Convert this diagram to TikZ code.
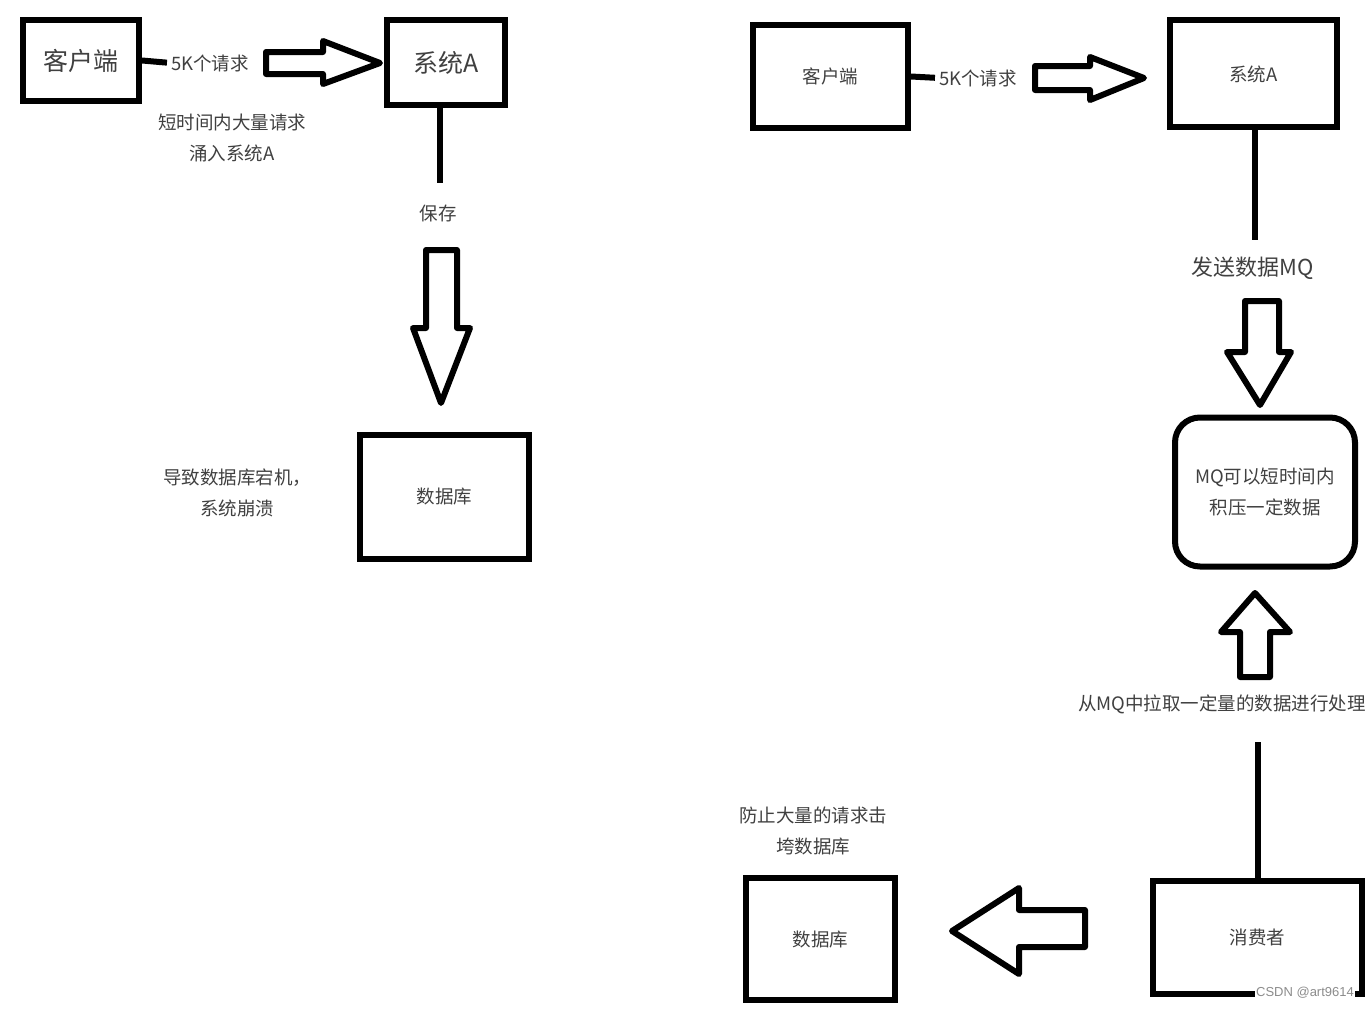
\documentclass[tikz,border=0pt]{standalone}
\usepackage{fontspec}
\setmainfont{Noto Sans CJK SC}
\newfontfamily\wmfont{Liberation Sans}
\definecolor{txt}{gray}{0.25}
\tikzset{
  box/.style={draw,line width=6pt,inner sep=0pt,text=txt,font=\fontsize{18.5}{22}\selectfont},
  lbl/.style={inner sep=0pt,align=center,text=txt,font=\fontsize{18.5}{31}\selectfont},
  wire/.style={line width=6pt},
  fat/.style={draw,line width=6pt,line join=round}
}
\begin{document}
\begin{tikzpicture}[x=1pt,y=-1pt]
	\useasboundingbox (0,0) rectangle (1369,1009);
	\clip (0,0) rectangle (1369,1009);
	% left: without MQ
	\node [box,minimum width=116pt,minimum height=81pt,font=\fontsize{25}{28}\selectfont] (cl1) at (81,60.5) {客户端};
	\node [box,minimum width=118pt,minimum height=85pt,font=\fontsize{25}{28}\selectfont] (sa1) at (446,62.5) {系统A};
	\node [box,minimum width=169pt,minimum height=124pt] (db1) at (444.5,497) {数据库};
	\node [lbl] (req1) at (210,63) {5K个请求};
	\node [lbl] (burst) at (232,138) {短时间内大量请求\\涌入系统A};
	\node [lbl] (keep) at (438,213) {保存};
	\node [lbl] (crash) at (237,493) {导致数据库宕机，\\系统崩溃};
	\draw [wire,shorten >=4pt] (cl1.east) -- (req1.west);
	\coordinate (c1) at (440,183);
	\draw [wire] (sa1.south -| c1) -- (c1);
	\draw [fat] (266,52) -- (323,52) -- (323,41) -- (380,63) -- (323,84) -- (323,74) -- (266,74) -- cycle;
	\draw [fat] (426,250) -- (457,250) -- (457,328) -- (470,328) -- (441,403) -- (413,328) -- (426,328) -- cycle;
	% right: with MQ
	\node [box,minimum width=155pt,minimum height=103pt] (cl2) at (830.5,76.5) {客户端};
	\node [box,minimum width=167pt,minimum height=107pt,text depth=-6pt] (sa2) at (1253.5,73.5) {系统A};
	\node [box,minimum width=180pt,minimum height=149pt,rounded corners=25pt,align=center,font=\fontsize{18.5}{31}\selectfont] (mq) at (1265,492) {\raisebox{-3pt}{MQ可以短时间内}\\\raisebox{-3pt}{积压一定数据}};
	\node [box,minimum width=209pt,minimum height=113pt] (cons) at (1257.5,937.5) {消费者};
	\node [box,minimum width=149pt,minimum height=122pt] (db2) at (820.5,939) {数据库};
	\node [lbl] (req2) at (978,78) {5K个请求};
	\node [lbl,font=\fontsize{22}{26}\selectfont] (send) at (1253,268) {发送数据MQ};
	\node [lbl,anchor=east] (pull) at (1366,704) {从MQ中拉取一定量的数据进行处理};
	\node [lbl] (guard) at (813,831) {防止大量的请求击\\垮数据库};
	\draw [wire,shorten >=4pt] (cl2.east) -- (req2.west);
	\coordinate (c2) at (1255,240);
	\draw [wire] (sa2.south -| c2) -- (c2);
	\coordinate (c3) at (1258,742);
	\draw [wire] (c3) -- (cons.north -| c3);
	\draw [fat] (1035,66) -- (1090,66) -- (1090,57) -- (1144,78) -- (1090,100) -- (1090,90) -- (1035,90) -- cycle;
	\draw [fat] (1245,301) -- (1279,301) -- (1279,352) -- (1291,352) -- (1260,405) -- (1227,352) -- (1245,352) -- cycle;
	\draw [fat] (1240,677) -- (1270,677) -- (1270,632) -- (1290,632) -- (1255,593) -- (1221,632) -- (1240,632) -- cycle;
	\draw [fat] (1085,910) -- (1019,910) -- (1019,888) -- (952,931) -- (1019,974) -- (1019,947) -- (1085,947) -- cycle;
	\node [fill=white,inner sep=1pt,text=black!45,font=\wmfont\fontsize{13}{15}\selectfont] (wm) at (1305,993) {CSDN @art9614};
\end{tikzpicture}
\end{document}
